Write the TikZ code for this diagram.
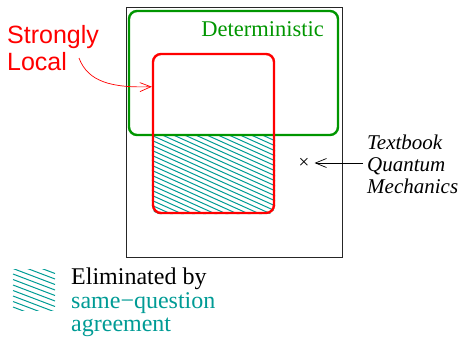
\documentclass[tikz,border=0pt]{standalone}
\usepackage{fontspec}
\setmainfont{Liberation Serif}
\setsansfont{Liberation Sans}
\usetikzlibrary{arrows.meta,calc,backgrounds}
\definecolor{SetGreen}{HTML}{009600}
\definecolor{SetRed}{HTML}{FF0000}
\definecolor{SetTeal}{HTML}{009B95}
\tikzset{
  universe/.style={draw=black!85, line width=0.9pt, inner sep=0pt,
    minimum width=216pt, minimum height=250pt},
  detset/.style={draw=SetGreen, line width=2.4pt, rounded corners=8pt, inner sep=0pt,
    minimum width=209pt, minimum height=124pt},
  locset/.style={draw=SetRed, line width=2.4pt, rounded corners=8pt, inner sep=0pt,
    minimum width=121pt, minimum height=159pt},
  hatch/.style={draw=SetTeal, line width=1pt},
  pointer/.style={-{Straight Barb[length=11pt,width=9pt]}, line width=0.7pt},
  textlbl/.style={inner sep=0pt, align=left}
}

\begin{document}
\begin{tikzpicture}[x=1pt, y=-1pt]
  \useasboundingbox (0,0) rectangle (463,338);

  % sets
  \node[universe] (world) at (234,132) {};
  \node[detset] (det) at (233.5,73) {};
  \node[locset] (loc) at (213.5,133.5) {};
  \node[textlbl, anchor=base east, text=SetGreen, font=\fontsize{22.5}{24}\selectfont]
    (dettext) at (324,36) {Deterministic};

  % hatched part of the local set
  \begin{scope}[on background layer]
    \clip (loc.west |- det.south) rectangle (loc.south east);
    \clip[rounded corners=8pt] (loc.north west) rectangle (loc.south east);
    \foreach \k in {-6,...,23}
      \draw[hatch] (140,100+5*\k) -- ++(150,67.5);
  \end{scope}

  % strongly local
  \node[textlbl, anchor=north west, text=SetRed, font=\sffamily\fontsize{25}{27}\selectfont]
    (strong) at (7,25) {Strongly\\Local};
  \coordinate (tail) at (79,58);
  \coordinate (hit) at ($(loc.north west)!0.21!(loc.south west)$);
  \draw[pointer, SetRed] (tail) .. controls (88,82) and (112,88) .. (hit);

  % textbook QM
  \node[inner sep=0pt, font=\fontsize{19}{19}\selectfont] (qmpt) at (304,163) {×};
  \node[textlbl, anchor=north west, font=\itshape\fontsize{21}{22}\selectfont]
    (qm) at (367,135) {Textbook\\Quantum\\Mechanics};
  \draw[pointer, shorten >=5pt] ([xshift=-4pt]qm.west |- qmpt) -- (qmpt);

  % legend
  \node[inner sep=0pt, minimum width=42pt, minimum height=40pt] (key) at (34,290) {};
  \begin{scope}
    \clip (key.north west) rectangle (key.south east);
    \foreach \k in {0,...,11}
      \draw[hatch] (13,252+5.5*\k) -- ++(42,16);
  \end{scope}
  \node[textlbl, anchor=north west, font=\fontsize{24}{23.5}\selectfont]
    (keytext) at (71,268) {Eliminated by\\\textcolor{SetTeal}{same−question}\\\textcolor{SetTeal}{agreement}};
\end{tikzpicture}
\end{document}
